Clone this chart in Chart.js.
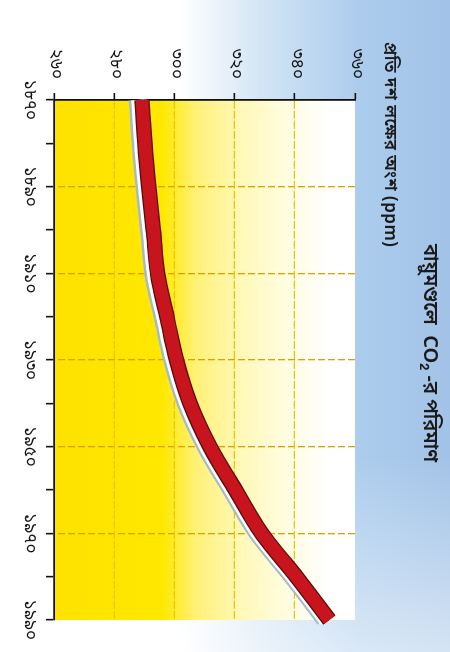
<!DOCTYPE html>
<html>
<head>
<meta charset="utf-8">
<script src="https://cdn.jsdelivr.net/npm/chart.js@4.4.1/dist/chart.umd.min.js"></script>
<style>
  html, body { margin: 0; padding: 0; background: #fff; overflow: hidden; width: 450px; height: 652px; }
  /* the chart is laid out landscape and turned a quarter turn clockwise */
  #wrap { position: absolute; left: 0; top: 0; width: 652px; height: 450px;
          transform-origin: 0 0; transform: translate(450px, 0) rotate(90deg); }
  canvas { display: block; }
</style>
</head>
<body>
<div id="wrap"><canvas id="c" width="652" height="450"></canvas></div>
<script>
// Atmospheric CO2, parts per million, by decade
const years = [1870, 1880, 1890, 1900, 1910, 1920, 1930, 1940, 1950, 1960, 1970, 1980, 1990];
const co2   = [289.2, 290.2, 291.5, 293.0, 294.4, 297.5, 300.7, 305.2, 311.8, 320.3, 329.0, 340.5, 351.5];

// Axis tick labels (Bengali numerals)
const yearTicks      = [1870, 1890, 1910, 1930, 1950, 1970, 1990];
const yearTickLabels = ['১৮৭০', '১৮৯০', '১৯১০', '১৯৩০', '১৯৫০', '১৯৭০', '১৯৯০'];
const ppmTicks       = [260, 280, 300, 320, 340, 360];
const ppmTickLabels  = ['২৬০', '২৮০', '৩০০', '৩২০', '৩৪০', '৩৬০'];

const titleText     = 'বায়ুমণ্ডলে  CO₂ -র পরিমাণ';
const axisTitleText = 'প্রতি দশ লক্ষের অংশ (ppm)';

const FONT = "'Noto Sans Bengali', 'Lohit Bengali', 'FreeSans', 'Noto Sans', sans-serif";

const points = years.map((y, i) => ({ x: y, y: co2[i] }));

// paper background: blue wash outside the plot, yellow fading to white inside it
const backdrop = {
  id: 'backdrop',
  beforeDraw(chart) {
    const { ctx, width, height, chartArea: a } = chart;
    ctx.save();
    ctx.fillStyle = '#ffffff';
    ctx.fillRect(0, 0, width, height);
    const g = ctx.createLinearGradient(0, 0, 0, height);
    g.addColorStop(0.00, '#a2c3e7');
    g.addColorStop(0.20, '#accced');
    g.addColorStop(0.42, '#d3e5f5');
    g.addColorStop(0.60, '#ffffff');
    g.addColorStop(1.00, '#ffffff');
    ctx.fillStyle = g;
    ctx.fillRect(0, 0, width, height);
    const h = ctx.createLinearGradient(0, 0, width, 0);
    h.addColorStop(0.00, 'rgba(255,255,255,0)');
    h.addColorStop(0.70, 'rgba(255,255,255,0)');
    h.addColorStop(1.00, 'rgba(255,255,255,0.55)');
    ctx.fillStyle = h;
    ctx.fillRect(0, 0, width, height);

    const y = ctx.createLinearGradient(0, a.bottom, 0, a.top);
    y.addColorStop(0.00, '#ffe200');
    y.addColorStop(0.36, '#ffe800');
    y.addColorStop(0.47, '#fff176');
    y.addColorStop(0.62, '#fff8b8');
    y.addColorStop(0.78, '#fffde2');
    y.addColorStop(0.92, '#ffffff');
    y.addColorStop(1.00, '#ffffff');
    ctx.fillStyle = y;
    ctx.fillRect(a.left, a.top, a.right - a.left, a.bottom - a.top);
    ctx.restore();
  }
};

// shifted copies of the curve give it a pale drop edge
const shift = {
  id: 'shift',
  beforeDatasetDraw(chart, args) {
    const s = chart.data.datasets[args.index].shiftY;
    chart.ctx.save();
    if (s) chart.ctx.translate(0, s);
  },
  afterDatasetDraw(chart) {
    chart.ctx.restore();
  }
};

// heading and axis caption
const captions = {
  id: 'captions',
  afterDraw(chart) {
    const { ctx } = chart;
    ctx.save();
    ctx.fillStyle = '#1a1a1a';
    ctx.textBaseline = 'middle';
    ctx.textAlign = 'center';
    ctx.font = `600 20px ${FONT}`;
    ctx.fillText(titleText, 353, 22);
    ctx.textAlign = 'left';
    ctx.font = `600 17px ${FONT}`;
    if ('letterSpacing' in ctx) ctx.letterSpacing = '0.5px';
    ctx.fillText(axisTitleText, 42, 62);
    ctx.restore();
  }
};

const line = (color, width, order, shiftY) => ({
  data: points, borderColor: color, borderWidth: width, order, shiftY,
  pointRadius: 0, fill: false, clip: false, tension: 0.35,
  borderCapStyle: 'butt', borderJoinStyle: 'round'
});

new Chart(document.getElementById('c'), {
  type: 'line',
  data: {
    datasets: [
      line('#c8141c', 13, 0),
      line('#5a0a0a', 15.5, 1),
      line('#ffffff', 15.5, 2, 3),
      line('#a6b9c6', 15.5, 3, 5.5)
    ]
  },
  plugins: [backdrop, shift, captions],
  options: {
    responsive: false,
    animation: false,
    devicePixelRatio: 1,
    layout: { padding: { top: 95, right: 32, left: 0, bottom: 0 } },
    plugins: { legend: { display: false }, tooltip: { enabled: false }, title: { display: false } },
    scales: {
      x: {
        type: 'linear', min: 1870, max: 1990,
        afterFit: s => { s.height = 54; },
        ticks: {
          stepSize: 10, autoSkip: false, maxRotation: 0, minRotation: 0, padding: 8,
          color: '#151515', font: { family: FONT, size: 17 },
          callback: v => { const i = yearTicks.indexOf(v); return i < 0 ? '' : yearTickLabels[i]; }
        },
        grid: {
          color: c => {
            const v = c.tick && c.tick.value;
            return (v > 1870 && v < 1990 && (v - 1870) % 20 === 0) ? '#d9a200' : 'transparent';
          },
          lineWidth: 1.3, tickColor: '#111', tickLength: 8, tickWidth: 1.6
        },
        border: { color: '#111', width: 1.8, dash: [7, 3] }
      },
      y: {
        type: 'linear', min: 260, max: 360,
        afterFit: s => { s.width = 100; },
        ticks: {
          stepSize: 20, padding: 14,
          color: '#151515', font: { family: FONT, size: 17 },
          callback: v => { const i = ppmTicks.indexOf(v); return i < 0 ? '' : ppmTickLabels[i]; }
        },
        grid: {
          color: c => {
            const v = c.tick && c.tick.value;
            return (v > 260 && v < 360) ? '#eec400' : 'transparent';
          },
          lineWidth: 1.3, tickColor: '#111', tickLength: 7, tickWidth: 1.6
        },
        border: { color: '#111', width: 1.8, dash: [8, 2] }
      }
    }
  }
});
</script>
</body>
</html>
